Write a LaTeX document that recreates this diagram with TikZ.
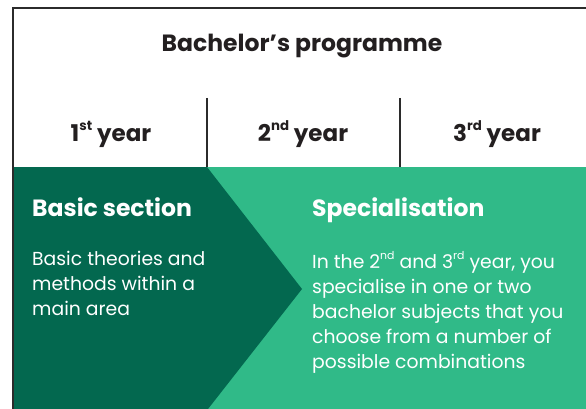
\documentclass[tikz,border=0pt]{standalone}
\usepackage{fontspec}
\setmainfont{Poppins}
\usetikzlibrary{positioning}
\definecolor{basicgreen}{HTML}{03684F}
\definecolor{specgreen}{HTML}{30BA88}
\definecolor{rulegray}{HTML}{2B2B2B}
\definecolor{inkblack}{HTML}{231F20}
\newcommand{\ordsup}[1]{\raisebox{0.5em}{\scalebox{0.58}{#1}}}
\begin{document}
\begin{tikzpicture}[
    x=1pt, y=-1pt,
    rule/.style={draw=rulegray, line width=2pt},
    title/.style={font=\bfseries\fontsize{23.5}{28}\selectfont, text=inkblack, anchor=base, inner sep=0pt},
    year/.style={font=\bfseries\fontsize{23}{28}\selectfont, text=inkblack, anchor=base, inner sep=0pt},
    heading/.style={font=\bfseries\fontsize{23.5}{28}\selectfont, text=white, anchor=base west, inner sep=0pt},
    body/.style={font=\fontsize{18.8}{25}\selectfont, text=white, anchor=north west, align=left, inner sep=0pt},
]
    \useasboundingbox (0,0) rectangle (586,409);
    % Coloured sections
    \fill[specgreen] (207,167) rectangle (586,409);
    \fill[basicgreen] (13,167) -- (207,167) -- (302,289) -- (208,409) -- (13,409) -- cycle;

    % Frame and year dividers
    \draw[rule] (13,409) -- (13,8) -- (586,8);
    \draw[rule] (207,98) -- (207,167);
    \draw[rule] (400,98) -- (400,167);

    % Programme and years
    \node[title] (programme) at (302,52) {Bachelor’s programme};
    \node[year] (year1) at (111,142) {1\ordsup{st} year};
    \node[year] (year2) at (303,142) {2\ordsup{nd} year};
    \node[year] (year3) at (497,142) {3\ordsup{rd} year};

    % Sections
    \node[heading] (basic) at (32,216) {Basic section};
    \node[body, below=35pt of basic.base west, anchor=north west] (basictext) {Basic theories and\\methods within a\\main area};
    \node[heading] (spec) at (312,216) {Specialisation};
    \node[body, below=35pt of spec.base west, anchor=north west] (spectext) {In the 2\ordsup{nd} and 3\ordsup{rd} year, you\\specialise in one or two\\bachelor subjects that you\\choose from a number of\\possible combinations};
\end{tikzpicture}
\end{document}
